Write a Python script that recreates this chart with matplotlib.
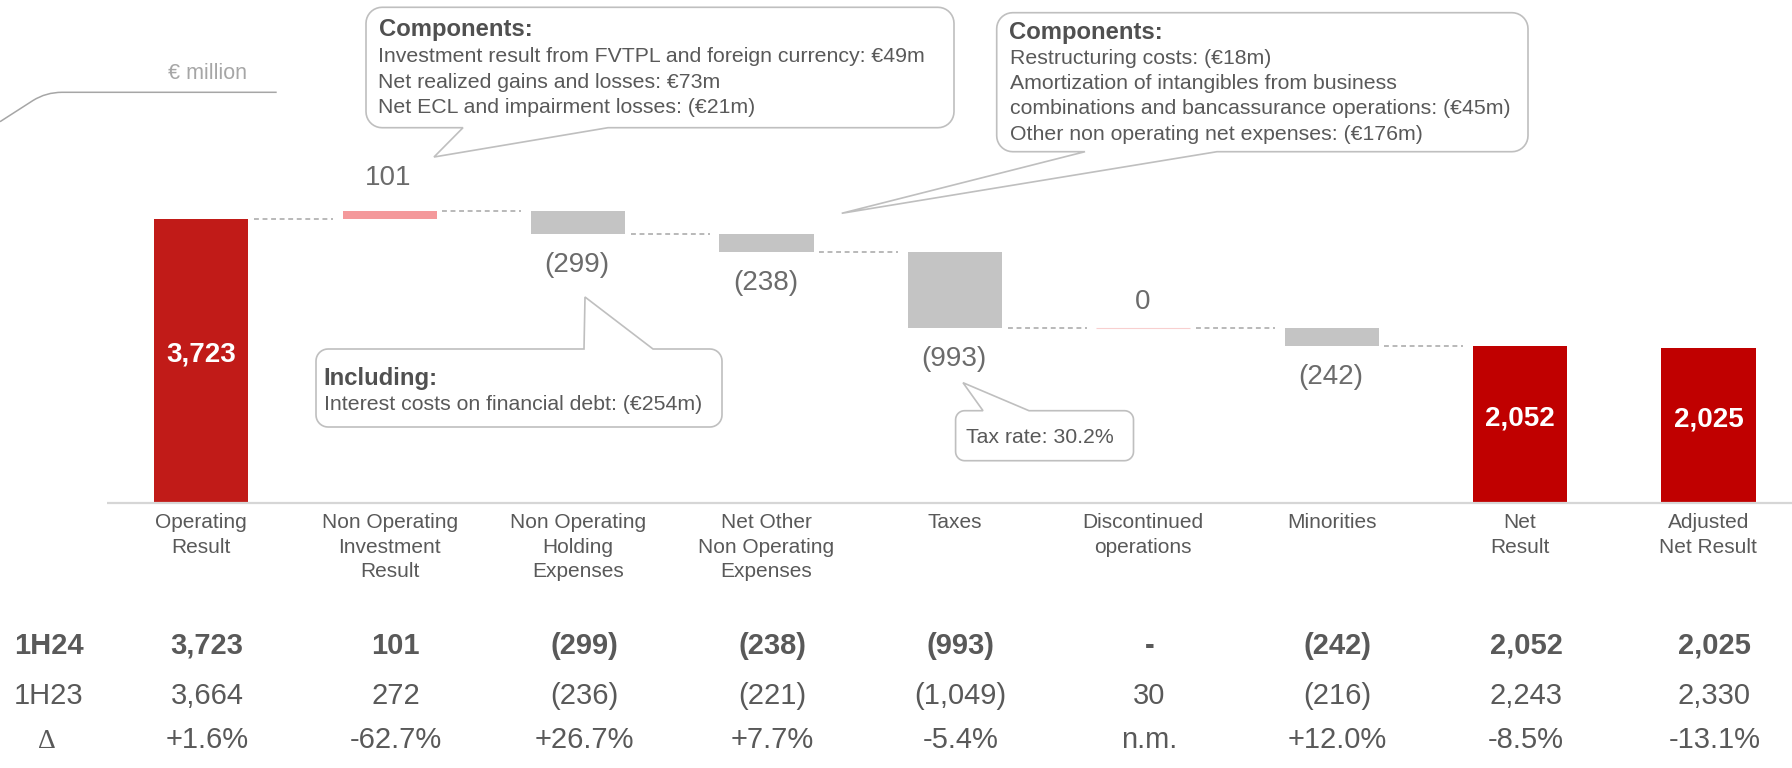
import numpy as np
import matplotlib
matplotlib.use("Agg")
import matplotlib.pyplot as plt
from matplotlib.path import Path
from matplotlib.patches import PathPatch
from matplotlib.transforms import Affine2D, blended_transform_factory, ScaledTranslation

# ---------------- data ----------------
categories = ["Operating\nResult", "Non Operating\nInvestment\nResult",
              "Non Operating\nHolding\nExpenses", "Net Other\nNon Operating\nExpenses",
              "Taxes", "Discontinued\noperations", "Minorities", "Net\nResult",
              "Adjusted\nNet Result"]
operating_result = 3723
steps = [101, -299, -238, -993, 0, -242]
net_result = 2052
adjusted_net_result = 2025
values_1h24 = [operating_result] + steps + [net_result, adjusted_net_result]
values_1h23 = [3664, 272, -236, -221, -1049, 30, -216, 2243, 2330]
delta_pct = ["+1.6%", "-62.7%", "+26.7%", "+7.7%", "-5.4%", "n.m.", "+12.0%", "-8.5%", "-13.1%"]
row_labels = ["1H24", "1H23", "\u0394"]
unit_label = "\u20ac million"

callout_inv = ["Components:",
               "Investment result from FVTPL and foreign currency: \u20ac49m",
               "Net realized gains and losses: \u20ac73m",
               "Net ECL and impairment losses: (\u20ac21m)"]
callout_other = ["Components:",
                 "Restructuring costs: (\u20ac18m)",
                 "Amortization of intangibles from business",
                 "combinations and bancassurance operations: (\u20ac45m)",
                 "Other non operating net expenses: (\u20ac176m)"]
callout_holding = ["Including:", "Interest costs on financial debt: (\u20ac254m)"]
callout_tax = ["Tax rate: 30.2%"]

# ---------------- style ----------------
plt.rcParams["font.family"] = ["Liberation Sans", "DejaVu Sans"]
W, H = 1792, 768
TXT = "#595959"
LBL = "#6B6B6B"
EDGE = "#BFBFBF"

fig = plt.figure(figsize=(W / 100, H / 100), dpi=100)
# pixel transform (origin top-left)
T = Affine2D().scale(1 / W, -1 / H).translate(0, 1) + fig.transFigure

left_px, spacing = 107, 188.4
xmax = -0.5 + (W - left_px) / spacing
base_px, ppu = 503, 0.0764
ax = fig.add_axes([left_px / W, 0, (W - left_px) / W, 1])
ax.set_xlim(-0.5, xmax)
ax.set_ylim(-(H - base_px) / ppu, base_px / ppu)
ax.axis("off")

def fmt(v):
    return "({:,})".format(-v) if v < 0 else "{:,}".format(v)

n = len(categories)
x = np.arange(n)

# waterfall geometry
bottoms, heights, colors = [0], [operating_result], ["#C11B18"]
run = operating_result
levels = [run]
for d in steps:
    bottoms.append(run)
    heights.append(d)
    colors.append("#F4999B" if d > 0 else "#C4C4C4")
    run += d
    levels.append(run)
bottoms += [0, 0]
heights += [net_result, adjusted_net_result]
colors += ["#C00000", "#C00000"]

for i in range(n):
    if heights[i] == 0:
        ax.bar(x[i], 0.0, bottom=bottoms[i], width=0.5, color="#F8CFCF",
               edgecolor="#F8CFCF", linewidth=0.8)
    else:
        ax.bar(x[i], heights[i], bottom=bottoms[i], width=0.5, color=colors[i],
               linewidth=0)

# connectors
for i in range(len(levels)):
    ax.plot([x[i] + 0.28, x[i] + 0.70], [levels[i], levels[i]], color="#A6A6A6",
            lw=1.1, linestyle=(0, (3.2, 2.4)))

ax.axhline(0, color="#D6D6D6", lw=1.6)

# value labels
for i in range(1, 1 + len(steps)):
    d = heights[i]
    if d < 0:
        off = -31
    elif d == 0:
        off = 26
    else:
        off = 33
    ax.annotate(fmt(d), xy=(x[i], bottoms[i] + d), xytext=(-1, off),
                textcoords="offset pixels", ha="center", va="center",
                fontsize=20, color=LBL)
for i in (0, n - 2, n - 1):
    ax.annotate(fmt(heights[i]), xy=(x[i], heights[i] / 2), xytext=(0, 6),
                textcoords="offset pixels", ha="center", va="center",
                fontsize=20, color="white", fontweight="bold")

# category labels
bt = blended_transform_factory(ax.transData, T)
for i, lab in enumerate(categories):
    for k, line in enumerate(lab.split("\n")):
        ax.text(x[i], 528.5 + 24.3 * k, line, transform=bt, ha="center",
                va="baseline", fontsize=15, color=TXT)

# table
bt_off = bt + ScaledTranslation(6 / 100, 0, fig.dpi_scale_trans)
row_base = [653.5, 703.5, 748.5]
for i in range(n):
    v = values_1h24[i]
    s = "-" if v == 0 else fmt(v)
    ax.text(x[i], row_base[0], s, transform=bt_off, ha="center", va="baseline",
            fontsize=21, fontweight="bold", color=TXT)
    ax.text(x[i], row_base[1], fmt(values_1h23[i]), transform=bt_off, ha="center",
            va="baseline", fontsize=21, color=TXT)
    ax.text(x[i], row_base[2], delta_pct[i], transform=bt_off, ha="center",
            va="baseline", fontsize=21, color=TXT)
fig.text(48.8, row_base[0], row_labels[0], transform=T, ha="center", va="baseline",
         fontsize=21, fontweight="bold", color=TXT)
fig.text(48.8, row_base[1], row_labels[1], transform=T, ha="center", va="baseline",
         fontsize=21, color=TXT)
fig.text(47, row_base[2], row_labels[2], transform=T, ha="center", va="baseline",
         fontsize=20, color=TXT, family=["Liberation Serif", "DejaVu Serif"])

# unit label with swoosh
fig.text(208, 73.3, unit_label, transform=T, ha="center", va="center",
         fontsize=15.5, color="#A6A6A6")
sw = Path([(0, 121.7), (33, 100.5), (46, 92.3), (62, 92.3), (276.7, 92.3)],
          [Path.MOVETO, Path.LINETO, Path.CURVE3, Path.CURVE3, Path.LINETO])
fig.add_artist(PathPatch(sw, transform=T, facecolor="none", edgecolor="#A6A6A6",
                         lw=1.1))

# callouts
def callout_path(x0, y0, x1, y1, r, tail, side):
    def arc(cx, cy, a0, a1):
        t = np.radians(np.linspace(a0, a1, 10))
        return [(cx + r * np.cos(a), cy + r * np.sin(a)) for a in t]
    v = []
    v += arc(x0 + r, y0 + r, 180, 270)
    if side == "top":
        v += [(tail[0], y0), tail[1], (tail[2], y0)]
    v += arc(x1 - r, y0 + r, 270, 360)
    v += arc(x1 - r, y1 - r, 0, 90)
    if side == "bottom":
        v += [(tail[2], y1), tail[1], (tail[0], y1)]
    v += arc(x0 + r, y1 - r, 90, 180)
    v.append(v[0])
    codes = [Path.MOVETO] + [Path.LINETO] * (len(v) - 2) + [Path.CLOSEPOLY]
    return Path(v, codes)

def draw_callout(box, r, tail, side, lines, tx, ty, heading=True):
    p = callout_path(*box, r, tail, side)
    fig.add_artist(PathPatch(p, transform=T, facecolor="white", edgecolor=EDGE,
                             lw=1.2, zorder=5))
    for k, (line, yy) in enumerate(zip(lines, ty)):
        bold = heading and k == 0
        fig.text(tx, yy, line, transform=T, ha="left", va="center",
                 fontsize=17.2 if bold else 15.3, fontweight="bold" if bold else "normal",
                 color="#505050" if bold else TXT, zorder=6)

draw_callout((366, 7.3, 954, 127.7), 16, (463, (434, 157), 608), "bottom",
             callout_inv, 378.5, [29.5, 56.5, 82.5, 107.5])
draw_callout((996.7, 12.7, 1528, 151.7), 16, (1085, (841.7, 213.3), 1217), "bottom",
             callout_other, 1009.5, [33, 58, 83.5, 109, 134.5])
draw_callout((316, 349, 722, 427), 12, (584, (585, 297), 653), "top",
             callout_holding, 323.5, [379, 405])
draw_callout((955.6, 410.7, 1133.5, 460.7), 9, (983, (963, 382.7), 1029), "top",
             callout_tax, 965.5, [437.5], heading=False)

fig.savefig("out.png", dpi=100)
